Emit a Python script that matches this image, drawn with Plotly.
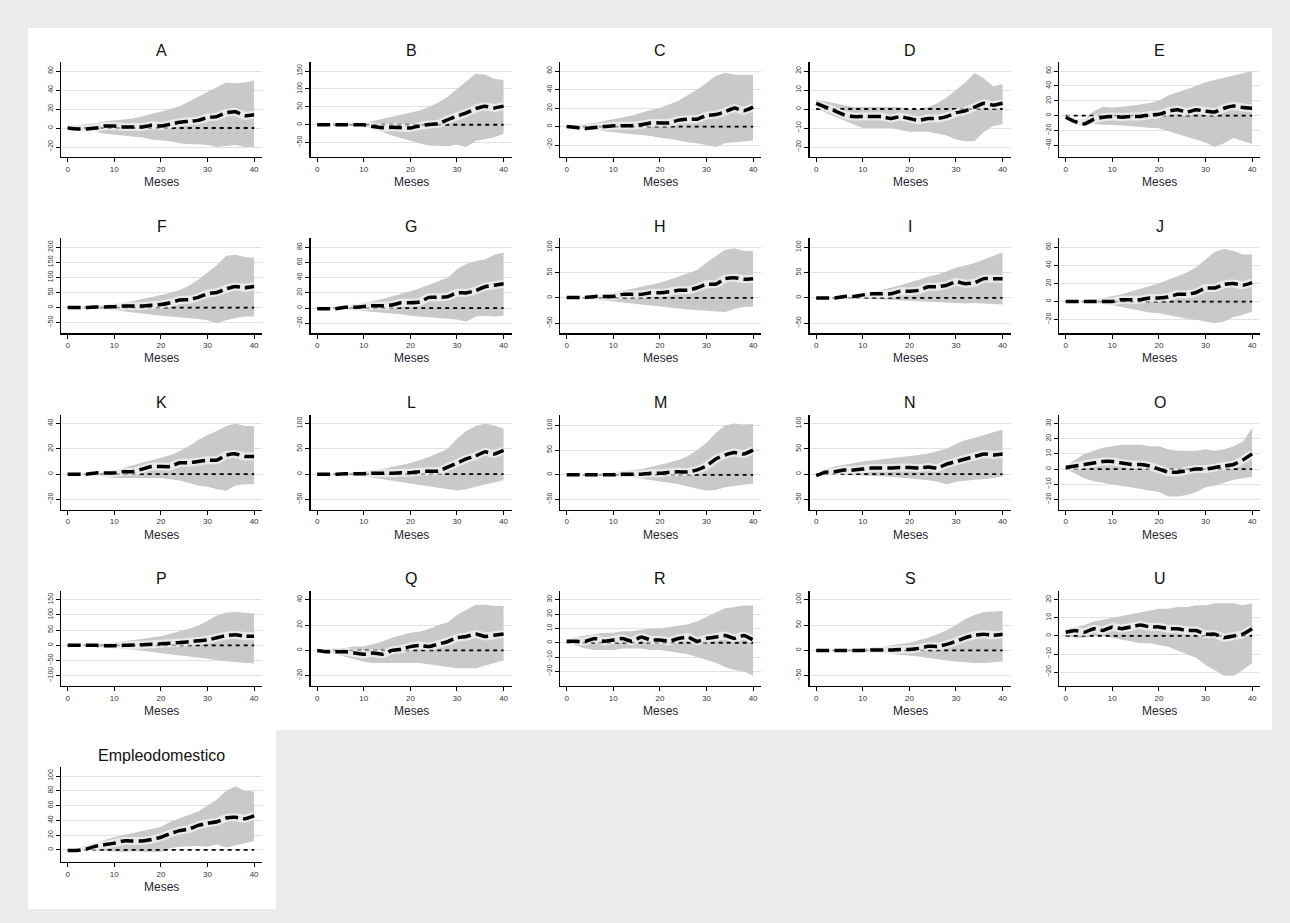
import plotly.graph_objects as go

W, H = 1290, 923

months = [0, 2, 4, 6, 8, 10, 12, 14, 16, 18, 20, 22, 24, 26, 28, 30, 32, 34, 36, 38, 40]
x_ticks = [0, 10, 20, 30, 40]
x_title = "Meses"

panel_names = ["A", "B", "C", "D", "E", "F", "G", "H", "I", "J",
               "K", "L", "M", "N", "O", "P", "Q", "R", "S", "U", "Empleodomestico"]

# ---- point estimate (mean), lower and upper band for each panel ----
A_mean = [0, -1, -1, 0, 2, 2, 1, 1, 1, 3, 2, 4, 6, 7, 8, 11, 12, 16, 17, 13, 14]
A_up = [2, 3, 4, 5, 7, 8, 9, 10, 12, 15, 17, 20, 23, 28, 33, 38, 43, 48, 47, 48, 50]
A_lo = [-1, -2, -3, -4, -6, -7, -8, -9, -10, -12, -13, -14, -16, -17, -17, -18, -20, -19, -18, -20, -20]

B_mean = [0, 0, 0, 0, 0, 0, -5, -8, -7, -8, -9, -3, 1, 3, 14, 24, 33, 45, 52, 47, 52]
B_up = [0, 0, 0, 1, 2, 5, 11, 16, 22, 28, 33, 40, 50, 62, 78, 100, 122, 142, 140, 128, 125]
B_lo = [0, 0, 0, -1, -2, -5, -13, -20, -30, -38, -45, -52, -58, -60, -60, -56, -62, -45, -40, -35, -25]

C_mean = [0, -1, -2, -1, 0, 1, 1, 1, 2, 4, 4, 4, 7, 8, 8, 12, 13, 16, 20, 17, 21]
C_up = [1, 2, 3, 4, 6, 8, 10, 12, 15, 18, 20, 24, 28, 34, 40, 47, 55, 58, 56, 56, 56]
C_lo = [-1, -2, -3, -4, -5, -6, -7, -8, -9, -10, -12, -13, -15, -17, -18, -20, -22, -18, -17, -16, -15]

D_mean = [3, 1, -1, -3, -4, -4, -4, -4, -5, -4, -5, -6, -5, -5, -4, -2, -1, 1, 3, 2, 3]
D_up = [5, 4, 3, 2, 1, 1, 1, 1, 1, 1, 0, 0, 1, 3, 6, 10, 14, 19, 16, 12, 13]
D_lo = [1, -2, -4, -6, -8, -10, -10, -10, -10, -11, -12, -12, -12, -13, -14, -16, -17, -17, -12, -9, -8]

E_mean = [-2, -8, -11, -5, -2, -1, -2, -1, -1, 1, 2, 6, 8, 5, 8, 6, 5, 10, 13, 11, 10]
E_up = [0, -4, -5, 6, 12, 11, 12, 13, 15, 17, 20, 27, 31, 36, 40, 45, 48, 51, 54, 57, 60]
E_lo = [-5, -12, -14, -11, -12, -12, -13, -14, -15, -16, -17, -20, -24, -28, -32, -36, -42, -37, -30, -34, -38]

F_mean = [0, 0, 0, 2, 2, 3, 5, 5, 5, 8, 10, 16, 25, 26, 34, 46, 50, 62, 70, 66, 70]
F_up = [2, 3, 4, 6, 9, 12, 16, 22, 28, 34, 40, 48, 58, 72, 92, 115, 140, 172, 175, 168, 165]
F_lo = [-1, -2, -3, -4, -6, -8, -12, -16, -20, -24, -27, -30, -34, -36, -38, -42, -52, -42, -35, -30, -30]

G_mean = [-1, -1, -1, 1, 1, 2, 3, 3, 4, 7, 7, 8, 14, 14, 15, 20, 20, 23, 28, 30, 32]
G_up = [0, 1, 2, 3, 5, 7, 9, 12, 15, 19, 22, 26, 31, 35, 40, 51, 58, 62, 64, 70, 73]
G_lo = [-1, -1, -1, -2, -3, -4, -5, -6, -7, -8, -10, -11, -12, -13, -14, -15, -18, -11, -10, -11, -10]

H_mean = [1, 1, 1, 3, 3, 3, 7, 7, 7, 10, 10, 12, 15, 15, 20, 27, 27, 38, 40, 37, 38]
H_up = [2, 2, 3, 4, 7, 10, 14, 18, 22, 26, 30, 36, 42, 48, 55, 70, 82, 95, 98, 93, 92]
H_lo = [0, -1, -1, -3, -5, -8, -10, -12, -13, -15, -17, -19, -21, -23, -24, -25, -27, -28, -22, -18, -17]

I_mean = [0, 0, 0, 3, 3, 6, 8, 8, 8, 13, 13, 15, 22, 22, 25, 32, 28, 30, 38, 38, 38]
I_up = [1, 1, 2, 3, 5, 8, 11, 15, 20, 25, 30, 36, 42, 46, 52, 60, 64, 69, 76, 83, 90]
I_lo = [0, 0, -1, -1, -1, -2, -2, -3, -4, -4, -5, -6, -7, -8, -9, -10, -11, -10, -10, -12, -13]

J_mean = [0, 0, 0, 0, 0, 0, 2, 2, 2, 4, 4, 5, 8, 8, 10, 15, 15, 19, 20, 18, 21]
J_up = [1, 1, 2, 3, 4, 6, 8, 11, 14, 17, 20, 24, 28, 32, 38, 47, 55, 58, 56, 52, 52]
J_lo = [0, 0, -1, -2, -3, -4, -6, -8, -10, -12, -13, -15, -17, -19, -20, -22, -24, -22, -17, -15, -11]

K_mean = [0, 0, 0, 1, 1, 1, 2, 2, 4, 6, 6, 6, 9, 9, 10, 11, 11, 15, 16, 14, 14]
K_up = [0, 0, 1, 1, 2, 3, 5, 7, 9, 11, 13, 15, 18, 22, 27, 31, 34, 38, 40, 38, 38]
K_lo = [0, 0, -1, -1, -2, -3, -3, -3, -3, -3, -3, -4, -5, -7, -9, -10, -12, -13, -9, -8, -8]

L_mean = [0, 0, 0, 1, 1, 1, 2, 2, 2, 3, 3, 5, 6, 6, 14, 22, 30, 36, 44, 40, 47]
L_up = [1, 1, 2, 3, 4, 6, 8, 10, 14, 18, 22, 28, 34, 42, 50, 70, 85, 95, 100, 96, 90]
L_lo = [0, -1, -1, -2, -3, -5, -7, -9, -12, -15, -18, -21, -24, -27, -30, -32, -30, -25, -20, -16, -12]

M_mean = [0, 0, 0, 0, 0, 0, 1, 1, 1, 3, 3, 5, 6, 6, 10, 18, 32, 40, 45, 42, 50]
M_up = [1, 1, 2, 2, 3, 5, 7, 9, 12, 16, 20, 25, 30, 38, 50, 65, 85, 100, 104, 102, 103]
M_lo = [0, 0, -1, -1, -2, -3, -4, -6, -8, -10, -13, -16, -19, -23, -28, -32, -31, -25, -22, -20, -18]

N_mean = [-3, 4, 5, 8, 8, 10, 12, 12, 12, 13, 13, 12, 14, 12, 20, 25, 30, 35, 40, 38, 40]
N_up = [1, 10, 15, 19, 22, 25, 27, 29, 31, 33, 35, 38, 41, 45, 50, 60, 67, 72, 77, 82, 88]
N_lo = [-5, -3, -1, -1, -1, -2, -3, -4, -5, -6, -8, -10, -12, -15, -20, -15, -13, -11, -10, -8, -5]

O_mean = [1, 2, 3, 4, 5, 5, 4, 3, 3, 2, 0, -2, -2, -1, 0, 0, 1, 2, 3, 6, 10]
O_up = [2, 6, 10, 12, 14, 15, 16, 16, 16, 15, 15, 13, 12, 12, 12, 13, 12, 13, 15, 18, 27]
O_lo = [0, -3, -6, -8, -9, -10, -11, -12, -13, -14, -15, -18, -18, -17, -15, -12, -11, -9, -7, -6, -5]

P_mean = [0, 0, 0, 0, -1, -1, 0, 1, 2, 4, 5, 7, 9, 12, 15, 18, 25, 32, 35, 30, 30]
P_up = [1, 2, 3, 4, 7, 10, 13, 17, 21, 26, 30, 38, 46, 55, 65, 80, 98, 108, 110, 108, 105]
P_lo = [0, -1, -2, -4, -7, -10, -12, -14, -17, -21, -25, -29, -33, -37, -40, -45, -48, -52, -55, -58, -60]

Q_mean = [0, -1, -1, -1, -2, -3, -2, -3, 0, 1, 3, 4, 3, 5, 7, 10, 11, 13, 11, 12, 13]
Q_up = [1, 1, 2, 2, 3, 3, 5, 7, 10, 12, 14, 15, 17, 20, 22, 28, 32, 36, 36, 35, 35]
Q_lo = [0, -2, -3, -5, -7, -9, -10, -10, -10, -10, -10, -10, -11, -12, -13, -14, -14, -14, -12, -10, -8]

R_mean = [1, 1, 1, 3, 1, 2, 3, 1, 4, 2, 2, 1, 3, 4, 1, 3, 4, 5, 3, 5, 2]
R_up = [2, 4, 5, 6, 7, 7, 8, 8, 9, 10, 10, 11, 12, 13, 15, 18, 21, 24, 25, 26, 26]
R_lo = [0, -2, -4, -5, -5, -5, -4, -4, -4, -5, -5, -6, -7, -8, -10, -12, -14, -17, -19, -20, -23]

S_mean = [0, 0, 0, 0, 0, 0, 1, 1, 1, 2, 2, 4, 8, 8, 12, 18, 25, 30, 32, 30, 32]
S_up = [1, 1, 2, 2, 3, 4, 5, 7, 10, 12, 15, 20, 25, 32, 40, 50, 62, 70, 76, 77, 78]
S_lo = [0, 0, -1, -1, -2, -3, -4, -5, -7, -8, -10, -12, -15, -18, -20, -22, -24, -25, -25, -24, -22]

U_mean = [2, 3, 2, 4, 3, 5, 4, 5, 6, 5, 5, 4, 4, 3, 3, 1, 1, -1, 0, 1, 4]
U_up = [4, 5, 6, 8, 9, 10, 11, 12, 13, 14, 15, 15, 16, 16, 17, 17, 18, 18, 18, 17, 18]
U_lo = [0, -1, -1, 0, 0, -1, -2, -3, -4, -4, -5, -6, -8, -10, -12, -16, -19, -22, -22, -19, -15]

Emp_mean = [-1, -1, 1, 5, 7, 9, 12, 12, 12, 14, 17, 22, 26, 28, 33, 36, 38, 43, 44, 42, 46]
Emp_up = [0, 2, 6, 10, 14, 17, 20, 23, 25, 28, 31, 38, 43, 47, 52, 60, 68, 80, 86, 80, 79]
Emp_lo = [-2, -2, -1, -1, -1, -2, -3, -2, -2, -3, -3, 2, 4, 5, 5, 4, 7, 3, 5, 9, 12]

# y tick values for each panel
A_ticks = [-20, 0, 20, 40, 60]
B_ticks = [-50, 0, 50, 100, 150]
C_ticks = [-20, 0, 20, 40, 60]
D_ticks = [-20, -10, 0, 10, 20]
E_ticks = [-40, -20, 0, 20, 40, 60]
F_ticks = [-50, 0, 50, 100, 150, 200]
G_ticks = [-20, 0, 20, 40, 60, 80]
H_ticks = [-50, 0, 50, 100]
I_ticks = [-50, 0, 50, 100]
J_ticks = [-20, 0, 20, 40, 60]
K_ticks = [-20, 0, 20, 40]
L_ticks = [-50, 0, 50, 100]
M_ticks = [-50, 0, 50, 100]
N_ticks = [-50, 0, 50, 100]
O_ticks = [-20, -10, 0, 10, 20, 30]
P_ticks = [-100, -50, 0, 50, 100, 150]
Q_ticks = [-20, 0, 20, 40]
R_ticks = [-20, -10, 0, 10, 20, 30]
S_ticks = [-50, 0, 50, 100]
U_ticks = [-20, -10, 0, 10, 20]
Emp_ticks = [0, 20, 40, 60, 80, 100]

panels = [
    (A_mean, A_lo, A_up, A_ticks), (B_mean, B_lo, B_up, B_ticks),
    (C_mean, C_lo, C_up, C_ticks), (D_mean, D_lo, D_up, D_ticks),
    (E_mean, E_lo, E_up, E_ticks), (F_mean, F_lo, F_up, F_ticks),
    (G_mean, G_lo, G_up, G_ticks), (H_mean, H_lo, H_up, H_ticks),
    (I_mean, I_lo, I_up, I_ticks), (J_mean, J_lo, J_up, J_ticks),
    (K_mean, K_lo, K_up, K_ticks), (L_mean, L_lo, L_up, L_ticks),
    (M_mean, M_lo, M_up, M_ticks), (N_mean, N_lo, N_up, N_ticks),
    (O_mean, O_lo, O_up, O_ticks), (P_mean, P_lo, P_up, P_ticks),
    (Q_mean, Q_lo, Q_up, Q_ticks), (R_mean, R_lo, R_up, R_ticks),
    (S_mean, S_lo, S_up, S_ticks), (U_mean, U_lo, U_up, U_ticks),
    (Emp_mean, Emp_lo, Emp_up, Emp_ticks),
]

# ---- geometry (pixels) ----
AX_W, AX_H = 201, 95
COL_STRIDE, ROW_STRIDE = 249.5, 176.25
LEFT0, TOP0 = 61, 62
X_RANGE = [-1.44, 41.7]

fig = go.Figure()
layout = dict(
    width=W, height=H, margin=dict(l=0, r=0, t=0, b=0),
    paper_bgcolor="#ebebeb", plot_bgcolor="rgba(0,0,0,0)",
    showlegend=False, hovermode=False,
    font=dict(family="Liberation Sans, Arial, sans-serif", color="#333333"),
)

shapes = [
    dict(type="rect", xref="paper", yref="paper", x0=28 / W, x1=1272 / W,
         y0=1 - 730 / H, y1=1 - 28 / H, fillcolor="white", line_width=0, layer="below"),
    dict(type="rect", xref="paper", yref="paper", x0=28 / W, x1=276 / W,
         y0=1 - 909 / H, y1=1 - 729 / H, fillcolor="white", line_width=0, layer="below"),
]
annotations = []

for i, (name, (mean, lo, up, ticks)) in enumerate(zip(panel_names, panels)):
    r, c = divmod(i, 5)
    left = LEFT0 + COL_STRIDE * c
    top = TOP0 + ROW_STRIDE * r
    right, bottom = left + AX_W, top + AX_H
    k = "" if i == 0 else str(i + 1)
    xa, ya = "x" + k, "y" + k

    dmin = min(min(ticks), min(lo))
    dmax = max(max(ticks), max(up))
    ppu = (AX_H - 19) / (dmax - dmin)
    yr = [dmin - 10 / ppu, dmax + 9 / ppu]

    layout["xaxis" + k] = dict(
        domain=[left / W, right / W], anchor=ya, range=X_RANGE,
        tickvals=x_ticks, showgrid=False, zeroline=False,
        showline=True, linecolor="black", linewidth=1.3,
        ticks="outside", ticklen=4, tickcolor="black", tickwidth=1,
        tickfont=dict(size=8, color="#333333"),
    )
    layout["yaxis" + k] = dict(
        domain=[1 - bottom / H, 1 - top / H], anchor=xa, range=yr,
        tickvals=ticks, tickangle=-90, showgrid=True, gridcolor="#e1e1e1",
        gridwidth=1, zeroline=False, showline=True, linecolor="black",
        linewidth=1.3, ticks="outside", ticklen=4, tickcolor="black",
        tickwidth=1, tickfont=dict(size=7, color="#333333"),
    )

    # confidence band
    fig.add_trace(go.Scatter(
        x=months + months[::-1], y=up + lo[::-1], xaxis=xa, yaxis=ya,
        fill="toself", fillcolor="#c9c9c9", mode="lines",
        line=dict(width=0, color="#c9c9c9"),
    ))
    # zero reference
    fig.add_trace(go.Scatter(
        x=months, y=[0 for _ in months], xaxis=xa, yaxis=ya, mode="lines",
        line=dict(color="black", width=1.8, dash="4px,4px"),
    ))
    # white halo and point estimate
    fig.add_trace(go.Scatter(
        x=months, y=mean, xaxis=xa, yaxis=ya, mode="lines", opacity=0.6,
        line=dict(color="white", width=8, shape="spline", smoothing=0.4),
    ))
    fig.add_trace(go.Scatter(
        x=months, y=mean, xaxis=xa, yaxis=ya, mode="lines",
        line=dict(color="black", width=3.5, dash="13px,5px", shape="spline", smoothing=0.4),
    ))

    cx = (left + right) / 2 / W
    annotations.append(dict(
        text=name, x=cx, y=1 - (top - 12) / H, xref="paper", yref="paper",
        showarrow=False, xanchor="center", yanchor="middle",
        font=dict(size=16, color="#111111"),
    ))
    annotations.append(dict(
        text=x_title, x=cx, y=1 - (bottom + 25) / H, xref="paper", yref="paper",
        showarrow=False, xanchor="center", yanchor="middle",
        font=dict(size=12, color="#1e2630"),
    ))

layout["shapes"] = shapes
layout["annotations"] = annotations
fig.update_layout(**layout)
fig.write_html(
    "out.html",
    config={"displayModeBar": False, "staticPlot": True},
    post_script="document.body.style.margin='0';document.body.style.background='#ebebeb';",
)
